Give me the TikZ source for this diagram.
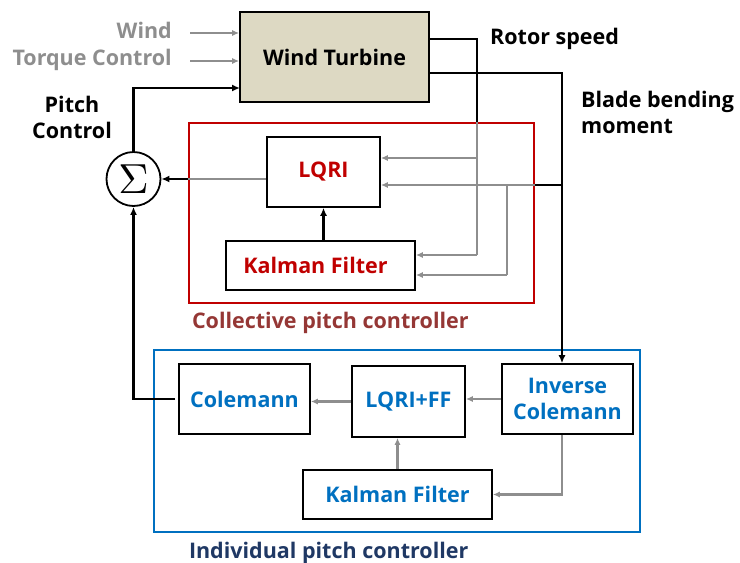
\documentclass[tikz,border=0pt]{standalone}
\usepackage{fontspec}
\setmainfont{Open Sans}
\usepackage{tikz}
\usetikzlibrary{arrows.meta,positioning,calc}
\definecolor{turbine}{HTML}{DDD9C3}
\definecolor{cpcred}{HTML}{C00000}
\definecolor{cpccap}{HTML}{953735}
\definecolor{ipcblue}{HTML}{0070C0}
\definecolor{ipccap}{HTML}{1F3864}
\definecolor{sigline}{HTML}{8E8E8E}
\tikzset{
  blk/.style={draw=black,line width=1.6pt,inner sep=0pt,align=center,
    font=\bfseries\fontsize{21.5}{26}\selectfont},
  blkr/.style={blk,text=cpcred},
  blkb/.style={blk,text=ipcblue},
  plant/.style={blk,fill=turbine},
  sumnode/.style={circle,draw,line width=1.8pt,minimum size=54pt,inner sep=0pt},
  frame/.style={draw=cpcred,line width=2.4pt,inner sep=0pt},
  frameb/.style={frame,draw=ipcblue},
  wire/.style={line width=2.3pt,draw=black},
  wireg/.style={line width=2.1pt,draw=sigline},
  flow/.style={wire,-{Latex[length=8pt,width=7pt]}},
  flowg/.style={wireg,-{Latex[length=7pt,width=6pt]}},
  lab/.style={inner sep=0pt,align=left,font=\bfseries\fontsize{21.5}{26}\selectfont},
  labg/.style={lab,text=sigline},
  figcap/.style={lab}, % captions under the two controller frames
}
\begin{document}
\begin{tikzpicture}[x=1pt,y=-1pt,node distance=6pt]
  \useasboundingbox (0,0) rectangle (740,563);
  % plant and its inputs
  \node[plant,minimum width=189pt,minimum height=90pt](wt) at (334.5,57){Wind Turbine};
  \node[labg,anchor=base east](wind) at (172,38){Wind};
  \node[labg,anchor=base east](torq) at (172,65){Torque Control};
  \coordinate (win) at (190,33);
  \coordinate (tin) at (190,61);
  \draw[flowg](win)--(win -| wt.west);
  \draw[flowg](tin)--(tin -| wt.west);
  \node[lab,anchor=base west](rsl) at (490,44){Rotor speed};
  \node[lab,anchor=north west](bml) at (581,91){Blade bending\\moment};

  % collective pitch controller
  \node[frame,minimum width=345pt,minimum height=180pt](cpc) at (361.5,213){};
  \node[blkr,minimum width=113pt,minimum height=70pt](lqri) at (323.5,172){LQRI};
  \node[blkr,minimum width=189pt,minimum height=49pt](kalc) at (320.5,265.5){Kalman Filter\hspace*{10pt}};
  \node[figcap,text=cpccap,anchor=base west](cpclab) at ($(cpc.south west)+(4,24)$){Collective pitch controller};

  % summation and pitch demand
  \node[sumnode](sig) at (133.5,179){\scalebox{4.2}{$\Sigma$}};
  \node[lab,align=center,anchor=north](pcl) at (72,96){Pitch\\Control};

  % individual pitch controller
  \node[frameb,minimum width=486pt,minimum height=182pt](ipc) at (397,441){};
  \node[blkb,minimum width=131pt,minimum height=70pt](cole) at (244.5,399){Colemann};
  \node[blkb,minimum width=113pt,minimum height=71pt](lqff) at (408.5,401.5){LQRI+FF};
  \node[blkb,minimum width=131pt,minimum height=70pt](icol) at (567.5,399){Inverse\\Colemann};
  \node[blkb,minimum width=189pt,minimum height=49pt](kali) at (397.5,494.5){Kalman Filter};
  \node[figcap,text=ipccap,anchor=base west](ipclab) at ($(ipc.south west)+(36,25)$){Individual pitch controller};

  % pitch into the turbine
  \coordinate (pin) at (240,88);
  \draw[flow](sig.north)|-(pin);

  % rotor speed feedback
  \coordinate (rs) at (477,39);
  \coordinate (rsa) at (477,158);
  \coordinate (rsb) at (477,255);
  \draw[wire](wt.east |- rs)--(rs)--(rs |- cpc.north);
  \draw[wireg](rs |- cpc.north)--(rsb);
  \draw[flowg](rsa)--(rsa -| lqri.east);
  \draw[flowg](rsb)--(rsb -| kalc.east);

  % blade bending moment feedback
  \coordinate (bm) at (562,73);
  \coordinate (bma) at (562,185);
  \coordinate (bmb) at (507,185);
  \coordinate (bmc) at (507,275);
  \draw[flow](wt.east |- bm)--(bm)--(bm |- icol.north);
  \draw[wire](bma)--(bma -| cpc.east);
  \draw[flowg](bma -| cpc.east)--(bma -| lqri.east);
  \draw[wireg](bmb)--(bmc);
  \draw[flowg](bmc)--(bmc -| kalc.east);

  % collective loop
  \draw[wireg](lqri.west |- sig)--(cpc.west |- sig);
  \draw[flow](cpc.west |- sig)--(sig.east);
  \draw[flow](kalc.north -| lqri.south)--(lqri.south);

  % individual loop
  \draw[flowg](icol.west)--(icol.west -| lqff.east);
  \draw[flowg](lqff.west)--(lqff.west -| cole.east);
  \draw[flowg](kali.north)--(kali.north |- lqff.south);
  \draw[flowg](icol.south -| bm)|-(kali.east);
  \draw[flow,shorten <=3pt](cole.west)-|(sig.south);
\end{tikzpicture}
\end{document}
